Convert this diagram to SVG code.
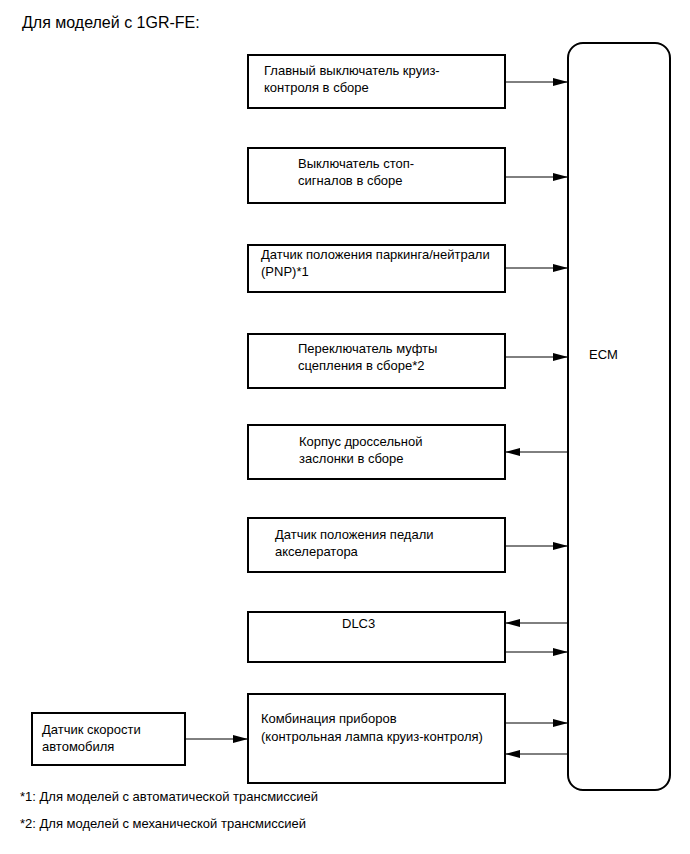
<svg xmlns="http://www.w3.org/2000/svg" width="690" height="854" viewBox="0 0 690 854">
<style>
text{font-family:"Liberation Sans",Arial,sans-serif;font-size:13px;fill:#000}
.t{font-size:16px}
.f{font-size:13px}
.box{fill:#fff;stroke:#000;stroke-width:2}
.ln{stroke:#000;stroke-width:1;fill:none}
.ah{fill:#000}
</style>
<defs>
<marker id="arr" markerWidth="15" markerHeight="8" refX="15" refY="4" orient="auto" markerUnits="userSpaceOnUse">
<path d="M0,0 L15,4 L0,8 z" class="ah"/>
</marker>
</defs>
<rect width="690" height="854" fill="#fff"/>
<text class="t" x="22" y="28">Для моделей с 1GR-FE:</text>

<g id="ecm">
<rect class="box" x="568" y="43" width="102" height="747" rx="15"/>
<text class="f" x="589" y="359">ECM</text>
</g>

<g id="n1">
<rect class="box" x="248" y="55" width="257" height="53"/>
<text x="264" y="75">Главный выключатель круиз-</text>
<text x="264" y="92">контроля в сборе</text>
</g>
<g id="n2">
<rect class="box" x="248" y="148" width="257" height="55"/>
<text x="298" y="168">Выключатель стоп-</text>
<text x="298" y="185">сигналов в сборе</text>
</g>
<g id="n3">
<rect class="box" x="248" y="245" width="257" height="47"/>
<text x="261" y="259">Датчик положения паркинга/нейтрали</text>
<text x="261" y="276">(PNP)*1</text>
</g>
<g id="n4">
<rect class="box" x="248" y="334" width="257" height="54"/>
<text x="298" y="353">Переключатель муфты</text>
<text x="298" y="370">сцепления в сборе*2</text>
</g>
<g id="n5">
<rect class="box" x="248" y="425" width="257" height="54"/>
<text x="299" y="446">Корпус дроссельной</text>
<text x="299" y="463">заслонки в сборе</text>
</g>
<g id="n6">
<rect class="box" x="248" y="518" width="257" height="54"/>
<text x="275" y="539">Датчик положения педали</text>
<text x="275" y="556">акселератора</text>
</g>
<g id="n7">
<rect class="box" x="248" y="612" width="257" height="50"/>
<text x="342" y="628">DLC3</text>
</g>
<g id="n8">
<rect class="box" x="248" y="694" width="257" height="89"/>
<text x="261" y="723">Комбинация приборов</text>
<text x="261" y="741">(контрольная лампа круиз-контроля)</text>
</g>
<g id="n9">
<rect class="box" x="32" y="713" width="153" height="52"/>
<text x="42" y="734">Датчик скорости</text>
<text x="42" y="751">автомобиля</text>
</g>

<g id="connectors">
<line class="ln" x1="505" y1="82" x2="568" y2="82" marker-end="url(#arr)"/>
<line class="ln" x1="505" y1="177" x2="568" y2="177" marker-end="url(#arr)"/>
<line class="ln" x1="505" y1="268" x2="568" y2="268" marker-end="url(#arr)"/>
<line class="ln" x1="505" y1="357" x2="568" y2="357" marker-end="url(#arr)"/>
<line class="ln" x1="568" y1="452" x2="505" y2="452" marker-end="url(#arr)"/>
<line class="ln" x1="505" y1="546" x2="568" y2="546" marker-end="url(#arr)"/>
<line class="ln" x1="568" y1="623" x2="505" y2="623" marker-end="url(#arr)"/>
<line class="ln" x1="505" y1="652" x2="568" y2="652" marker-end="url(#arr)"/>
<line class="ln" x1="505" y1="723" x2="568" y2="723" marker-end="url(#arr)"/>
<line class="ln" x1="568" y1="754" x2="505" y2="754" marker-end="url(#arr)"/>
<line class="ln" x1="185" y1="739" x2="248" y2="739" marker-end="url(#arr)"/>
</g>

<text class="f" x="20" y="801">*1: Для моделей с автоматической трансмиссией</text>
<text class="f" x="20" y="828">*2: Для моделей с механической трансмиссией</text>
</svg>
